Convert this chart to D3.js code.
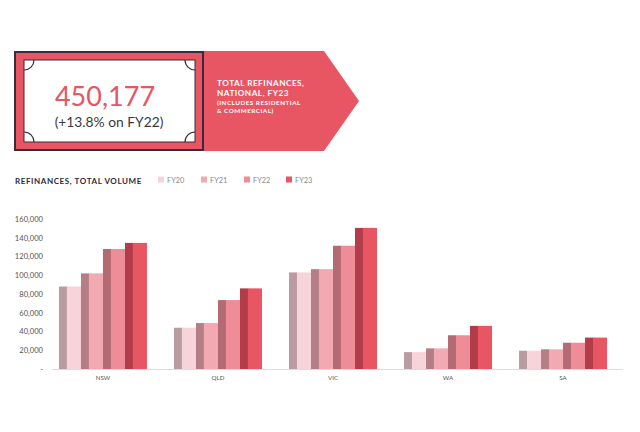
<!DOCTYPE html>
<html><head><meta charset="utf-8">
<script src="https://cdn.jsdelivr.net/npm/d3@7"></script>
<style>
html,body{margin:0;padding:0;background:#fff;}
svg{display:block;font-family:Lato,"Open Sans",sans-serif;}
</style></head>
<body>
<svg id="chart" width="640" height="432"></svg>
<script>
const categories = ["NSW","QLD","VIC","WA","SA"];
const seriesNames = ["FY20","FY21","FY22","FY23"];
const FY20 = [88000, 44000, 103000, 18000, 19500];
const FY21 = [102000, 49000, 106500, 22000, 21000];
const FY22 = [128000, 73500, 131500, 36000, 28000];
const FY23 = [134500, 86000, 150500, 46000, 33500];
const yTicks = [0,20000,40000,60000,80000,100000,120000,140000,160000];
const faceColors = ["#f7d4d9","#f2a9b1","#ee8d97","#e85664"];
const sideColors = ["#b89ca1","#b47e86","#b46a73","#b23c4a"];
const headline = "450,177";
const subline = "(+13.8% on FY22)";

const svg = d3.select("#chart");
const series = [FY20, FY21, FY22, FY23];

// ---------- header ----------
const red = "#e85563", dark = "#3a2a3c";
const g0 = svg.append("g");
g0.append("path")
  .attr("d", d3.line()([[203,51],[324,51],[359,101],[324,151],[203,151]]))
  .attr("fill", red);
g0.append("rect").attr("x",15).attr("y",52).attr("width",188).attr("height",98)
  .attr("fill", red).attr("stroke", dark).attr("stroke-width",2);
g0.append("rect").attr("x",24).attr("y",60).attr("width",171).attr("height",82)
  .attr("fill","#fff").attr("stroke", dark).attr("stroke-width",1);
const r = 10;
const corners = [[24,60,0],[195,60,1],[24,142,3],[195,142,2]];
corners.forEach(([cx,cy,q])=>{
  const a0 = q*Math.PI/2 + Math.PI/2, a1 = a0 + Math.PI/2;
  g0.append("path")
    .attr("d", d3.arc()({innerRadius:r,outerRadius:r,startAngle:a0,endAngle:a1}))
    .attr("transform",`translate(${cx},${cy})`)
    .attr("fill","none").attr("stroke",dark).attr("stroke-width",1.2);
});
g0.append("text").attr("x",105).attr("y",106).attr("text-anchor","middle")
  .attr("font-size",27).attr("font-weight",400).attr("fill",red).text(headline);
g0.append("text").attr("x",109).attr("y",127).attr("text-anchor","middle")
  .attr("font-size",13.8).attr("font-weight",400).attr("fill","#3a3a40").text(subline);
const hl = [["TOTAL REFINANCES,",86,8.2],["NATIONAL, FY23",95.5,8.2],["(INCLUDES RESIDENTIAL",104.5,6.3],["& COMMERCIAL)",113,6.3]];
hl.forEach(([t,y,s])=>g0.append("text").attr("x",217).attr("y",y).attr("font-size",s)
  .attr("font-weight",700).attr("letter-spacing",0.5).attr("fill","#fff").text(t));

// ---------- legend ----------
svg.append("text").attr("x",15).attr("y",184).attr("font-size",8)
  .attr("font-weight",700).attr("letter-spacing",0.6).attr("fill","#2a2a3c")
  .text("REFINANCES, TOTAL VOLUME");
const legX = [158,201,244,286];
seriesNames.forEach((n,i)=>{
  svg.append("rect").attr("x",legX[i]).attr("y",176.5).attr("width",6).attr("height",6).attr("fill",faceColors[i]);
  svg.append("text").attr("x",legX[i]+9).attr("y",182.5).attr("font-size",7.4).attr("fill","#8a8a90").text(n);
});

// ---------- chart ----------
const y = d3.scaleLinear().domain([0,160000]).range([369,219]);
const x0 = d3.scaleBand().domain(categories).range([45.5,620.5]).paddingInner(0.235).paddingOuter(0.117);
const x1 = d3.scaleBand().domain(seriesNames).range([0, x0.bandwidth()]);

const yAxis = d3.axisLeft(y).tickValues(yTicks).tickSize(0).tickPadding(0)
  .tickFormat(d => d===0 ? "-   " : d3.format(",")(d));
const ya = svg.append("g").attr("transform","translate(43,0)").call(yAxis);
ya.select(".domain").remove();
ya.selectAll("text").attr("font-size",7.6).attr("fill","#555").attr("font-family","Lato,sans-serif");

svg.append("line").attr("x1",52).attr("x2",623).attr("y1",369.5).attr("y2",369.5)
  .attr("stroke","#dcdcdf").attr("stroke-width",1);

const groups = svg.selectAll("g.grp").data(categories).join("g")
  .attr("class","grp").attr("transform", d=>`translate(${x0(d)},0)`);
seriesNames.forEach((n,si)=>{
  groups.each(function(c,ci){
    const v = series[si][ci];
    const g = d3.select(this);
    const bx = x1(n), bw = x1.bandwidth(), sw = bw*0.36;
    g.append("rect").attr("x",bx).attr("y",y(v)).attr("width",sw+0.5).attr("height",y(0)-y(v)).attr("fill",sideColors[si]);
    g.append("rect").attr("x",bx+sw).attr("y",y(v)).attr("width",bw-sw).attr("height",y(0)-y(v)).attr("fill",faceColors[si]);
  });
});

const xAxis = d3.axisBottom(x0).tickSize(0).tickPadding(5);
const xa = svg.append("g").attr("transform","translate(0,371)").call(xAxis);
xa.select(".domain").remove();
xa.selectAll("text").attr("font-size",6.2).attr("fill","#555").attr("font-family","Lato,sans-serif");
</script>
</body></html>
